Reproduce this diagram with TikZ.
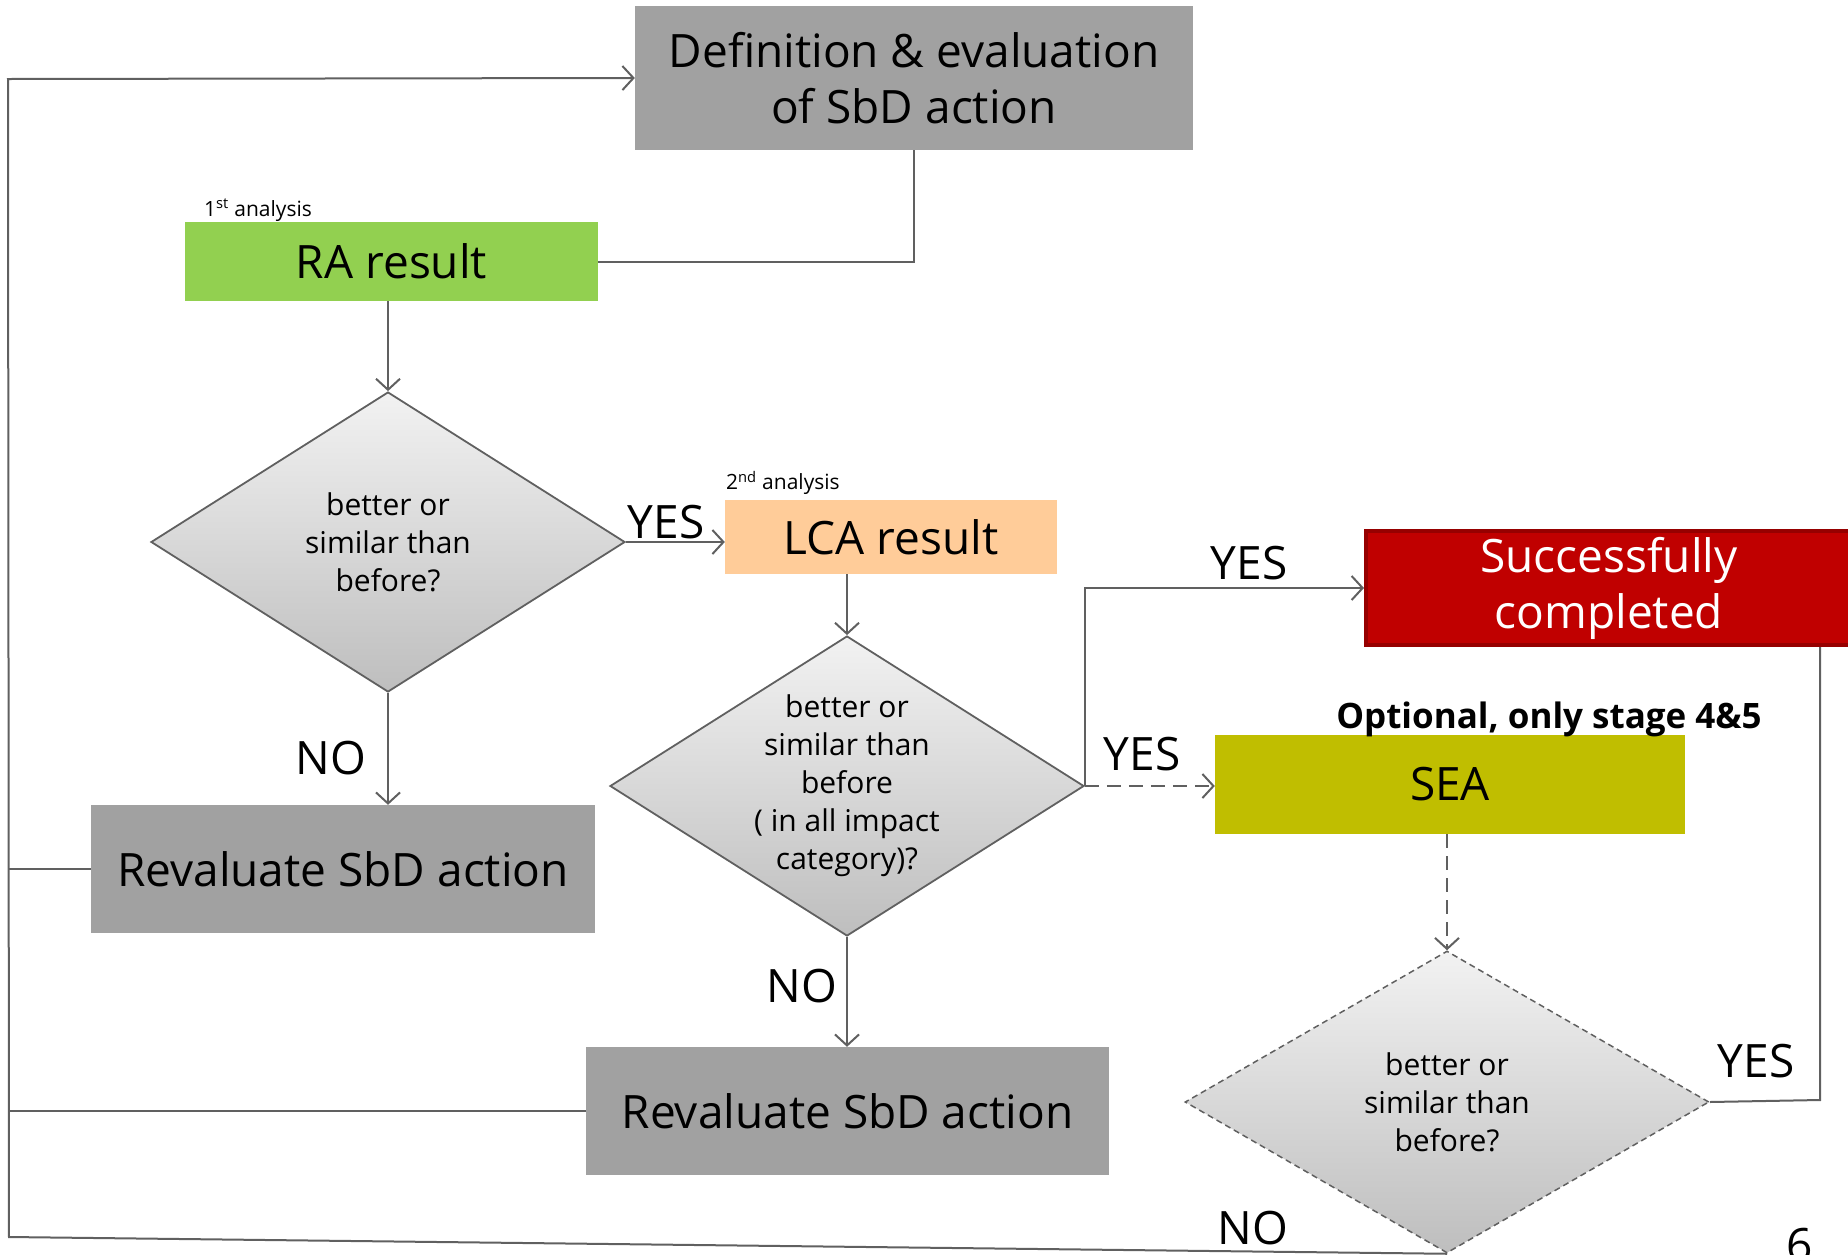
\documentclass[tikz,border=0pt]{standalone}
\usepackage{fontspec}
\setmainfont{Open Sans}
\usetikzlibrary{shapes.geometric,arrows.meta}
\definecolor{boxgray}{RGB}{161,161,161}
\definecolor{ragreen}{RGB}{146,208,80}
\definecolor{lcaorange}{RGB}{255,204,153}
\definecolor{seaolive}{RGB}{192,190,0}
\definecolor{succred}{RGB}{192,0,0}
\definecolor{succborder}{RGB}{150,0,0}
\definecolor{linegray}{RGB}{96,96,96}
\definecolor{dtop}{RGB}{242,242,242}
\definecolor{dbot}{RGB}{190,190,190}
\tikzset{
  x=1pt, y=-1pt,
  box/.style={rectangle, inner sep=0pt, align=center, font=\fontsize{46}{56}\selectfont},
  decision/.style={diamond, draw=linegray, line width=1.8pt, inner sep=0pt,
    top color=dtop, bottom color=dbot},
  dtext/.style={align=center, inner sep=0pt, font=\fontsize{30}{38}\selectfont},
  conn/.style={draw=linegray, line width=2pt},
  arr/.style={conn, -{Straight Barb[length=11pt,width=24pt,line width=2pt]}},
  lbl/.style={font=\fontsize{46}{50}\selectfont, inner sep=0pt},
  small/.style={font=\fontsize{21}{24}\selectfont, inner sep=0pt, anchor=west}
}
\begin{document}
\begin{tikzpicture}
\useasboundingbox (0,0) rectangle (1848,1254);
% nodes
\node[box, fill=boxgray, minimum width=558pt, minimum height=144pt] (top) at (914,78) {Definition \& evaluation\\of SbD action};
\node[box, fill=ragreen, minimum width=413pt, minimum height=79pt] (ra) at (391.5,261.5) {RA result};
\node[small] (lab1) at (204,210) {1\textsuperscript{st} analysis};
\node[decision, minimum width=474pt, minimum height=300pt] (d1) at (388,542) {};
\node[dtext] (d1t) at (d1.center) {better or\\similar than\\before?};
\node[box, fill=boxgray, minimum width=504pt, minimum height=128pt] (rev1) at (343,869) {Revaluate SbD action};
\node[box, fill=lcaorange, minimum width=332pt, minimum height=74pt] (lca) at (891,537) {LCA result};
\node[small] (lab2) at (726,483) {2\textsuperscript{nd} analysis};
\node[decision, minimum width=474pt, minimum height=300pt] (d2) at (847,786) {};
\node[dtext] (d2t) at (d2.center) {better or\\similar than\\before\\( in all impact\\category)?};
\node[box, fill=boxgray, minimum width=523pt, minimum height=128pt] (rev2) at (847.5,1111) {Revaluate SbD action};
\node[box, fill=succred, draw=succborder, line width=4pt, text=white, minimum width=486pt, minimum height=114pt] (succ) at (1609,588) {Successfully\\completed};
\node[box, fill=seaolive, minimum width=470pt, minimum height=99pt] (sea) at (1450,784.5) {SEA};
\node[font=\bfseries\fontsize{35}{40}\selectfont, inner sep=0pt] (opt) at (1549,719) {Optional, only stage 4\&5};
\node[decision, dashed, dash pattern=on 6pt off 4pt, line width=1.5pt, minimum width=524pt, minimum height=302pt] (d3) at (1447,1102) {};
\node[dtext] (d3t) at (d3.center) {better or\\similar than\\before?};
% coordinates
\coordinate (lt) at (8,79);
\coordinate (lb) at (9,1237);
\coordinate (rc) at (1820,1100);
% connectors
\draw[conn] (top.south) |- (ra.east);
\draw[arr] (ra.south -| d1.north) -- (d1.north);
\draw[arr] (d1.east) -- (d1.east -| lca.west);
\draw[arr] (d1.south) -- (d1.south |- rev1.north);
\draw[conn] (rev1.west) -- (rev1.west -| lt);
\draw[arr] (d3.south) -- (lb) -- (lt) -- (top.west);
\draw[conn] (rev2.west) -- (rev2.west -| lt);
\draw[arr] (lca.south -| d2.north) -- (d2.north);
\draw[arr] (d2.south) -- (d2.south |- rev2.north);
\draw[arr] (d2.east) |- (succ.west);
\draw[arr, dashed, dash pattern=on 14pt off 8pt] (d2.east) -- (d2.east -| sea.west);
\draw[arr, dashed, dash pattern=on 14pt off 8pt] (sea.south -| d3.north) -- (d3.north);
\draw[conn] (d3.east) -- (rc) -- (rc |- succ.south);
% labels
\node[lbl] (y1) at (666,522) {YES};
\node[lbl] (n1) at (331,758) {NO};
\node[lbl] (y2) at (1249,563) {YES};
\node[lbl] (y3) at (1142,754) {YES};
\node[lbl] (n2) at (802,986) {NO};
\node[lbl] (y4) at (1756,1061) {YES};
\node[lbl] (n3) at (1253,1228) {NO};
\node[lbl, anchor=north] (pg) at (1800,1228) {6};
\end{tikzpicture}
\end{document}
